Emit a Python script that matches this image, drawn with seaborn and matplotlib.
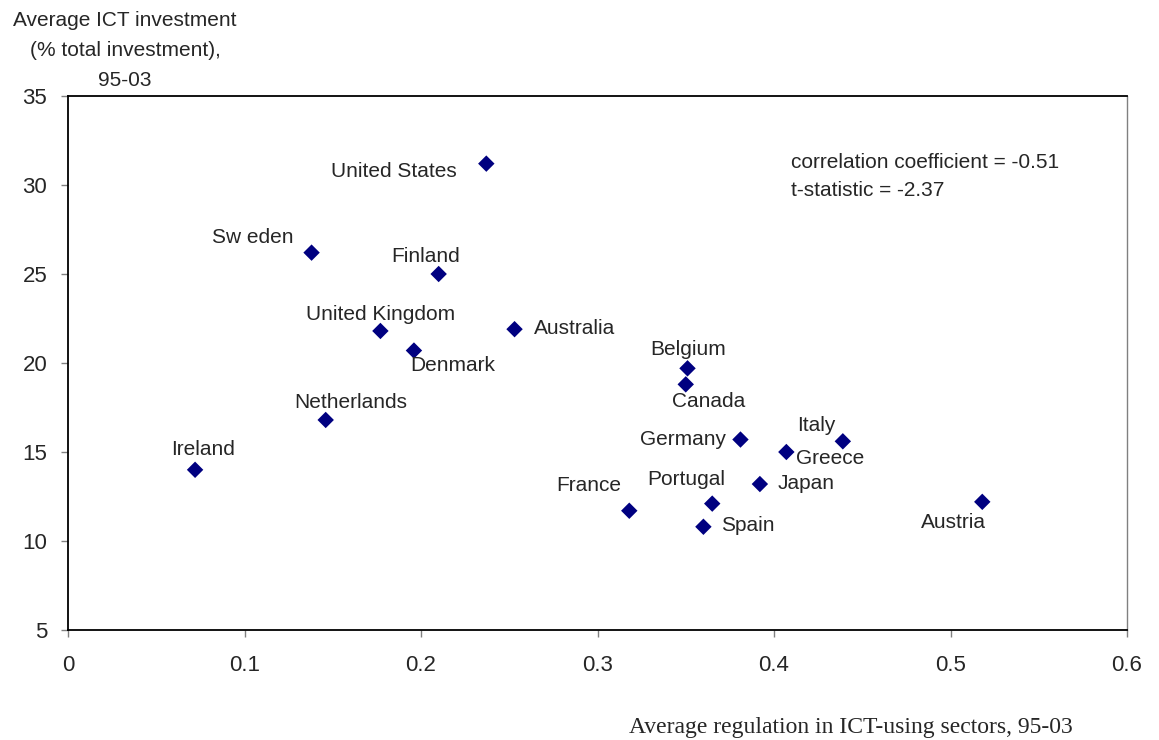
import matplotlib
matplotlib.use("Agg")
import matplotlib.pyplot as plt
import seaborn as sns
import pandas as pd

countries = ["United States", "Sweden", "Finland", "United Kingdom", "Australia",
             "Denmark", "Belgium", "Canada", "Netherlands", "Ireland", "Germany",
             "Italy", "Greece", "Japan", "Portugal", "France", "Spain", "Austria"]
labels = ["United States", "Sw eden", "Finland", "United Kingdom", "Australia",
          "Denmark", "Belgium", "Canada", "Netherlands", "Ireland", "Germany",
          "Italy", "Greece", "Japan", "Portugal", "France", "Spain", "Austria"]
regulation = [0.237, 0.138, 0.210, 0.177, 0.253, 0.196, 0.351, 0.350, 0.146,
              0.072, 0.381, 0.439, 0.407, 0.392, 0.365, 0.318, 0.360, 0.518]
ict_invest = [31.2, 26.2, 25.0, 21.8, 21.9, 20.7, 19.7, 18.8, 16.8,
              14.0, 15.7, 15.6, 15.0, 13.2, 12.1, 11.7, 10.8, 12.2]
x_ticks = [0, 0.1, 0.2, 0.3, 0.4, 0.5, 0.6]
x_tick_labels = ["0", "0.1", "0.2", "0.3", "0.4", "0.5", "0.6"]
y_ticks = [5, 10, 15, 20, 25, 30, 35]
y_title_lines = ["Average ICT investment", "(% total investment),", "95-03"]
x_title = "Average regulation in ICT-using sectors, 95-03"
stats_lines = ["correlation coefficient = -0.51", "t-statistic = -2.37"]

# label offsets in pixels (dx, dy, ha)
offsets = {
    "United States": (-30, -8, "right"),
    "Sweden": (-18, 15, "right"),
    "Finland": (-13, 17, "center"),
    "United Kingdom": (0, 16, "center"),
    "Australia": (19, 1, "left"),
    "Denmark": (-4, -15, "left"),
    "Belgium": (1, 19, "center"),
    "Canada": (23, -17, "center"),
    "Netherlands": (25, 17, "center"),
    "Ireland": (8, 20, "center"),
    "Germany": (-14, 0, "right"),
    "Italy": (-27, 16, "center"),
    "Greece": (10, -7, "left"),
    "Japan": (18, 1, "left"),
    "Portugal": (-26, 24, "center"),
    "France": (-41, 25, "center"),
    "Spain": (18, 1, "left"),
    "Austria": (-29, -21, "center"),
}

df = pd.DataFrame({"country": countries, "label": labels,
                   "reg": regulation, "ict": ict_invest})

sns.set_style("white")
plt.rcParams["font.family"] = ["Liberation Sans", "DejaVu Sans"]

FS = 15
W, H = 1159, 740
fig = plt.figure(figsize=(W / 100, H / 100), dpi=100)
ax = fig.add_axes([68 / W, 1 - 630 / H, (1127 - 68) / W, (630 - 96) / H])

sns.scatterplot(data=df, x="reg", y="ict", marker="D", color="#000080",
                s=70, edgecolor="none", ax=ax, legend=False)

for _, r in df.iterrows():
    dx, dy, ha = offsets[r["country"]]
    ax.annotate(r["label"], (r["reg"], r["ict"]), xytext=(dx, dy),
                textcoords="offset pixels", ha=ha, va="center", fontsize=FS)

ax.set_xlim(0, 0.6)
ax.set_ylim(5, 35)
ax.set_xticks(x_ticks)
ax.set_xticklabels(x_tick_labels)
ax.set_yticks(y_ticks)
ax.tick_params(axis="both", which="major", labelsize=FS + 1, direction="out",
               length=5, width=1, color="#808080", left=True, bottom=True)
ax.tick_params(axis="x", pad=13)
ax.tick_params(axis="y", pad=10)
ax.set_xlabel("")
ax.set_ylabel("")
for side in ["left", "bottom", "top"]:
    ax.spines[side].set_color("black")
    ax.spines[side].set_linewidth(1.3)
ax.spines["right"].set_color("#808080")
ax.spines["right"].set_linewidth(1)

for i, line in enumerate(stats_lines):
    fig.text(791 / W, 1 - (162 + 29 * i) / H, line, fontsize=FS,
             va="center", ha="left")

for i, line in enumerate(y_title_lines):
    fig.text(125 / W, 1 - (20 + 30 * i) / H, line, ha="center", va="center",
             fontsize=FS)

fig.text(1073 / W, 1 - 727 / H, x_title, ha="right", va="center", fontsize=17,
         family=["Liberation Serif", "DejaVu Serif"])

fig.savefig("out.png", dpi=100)
